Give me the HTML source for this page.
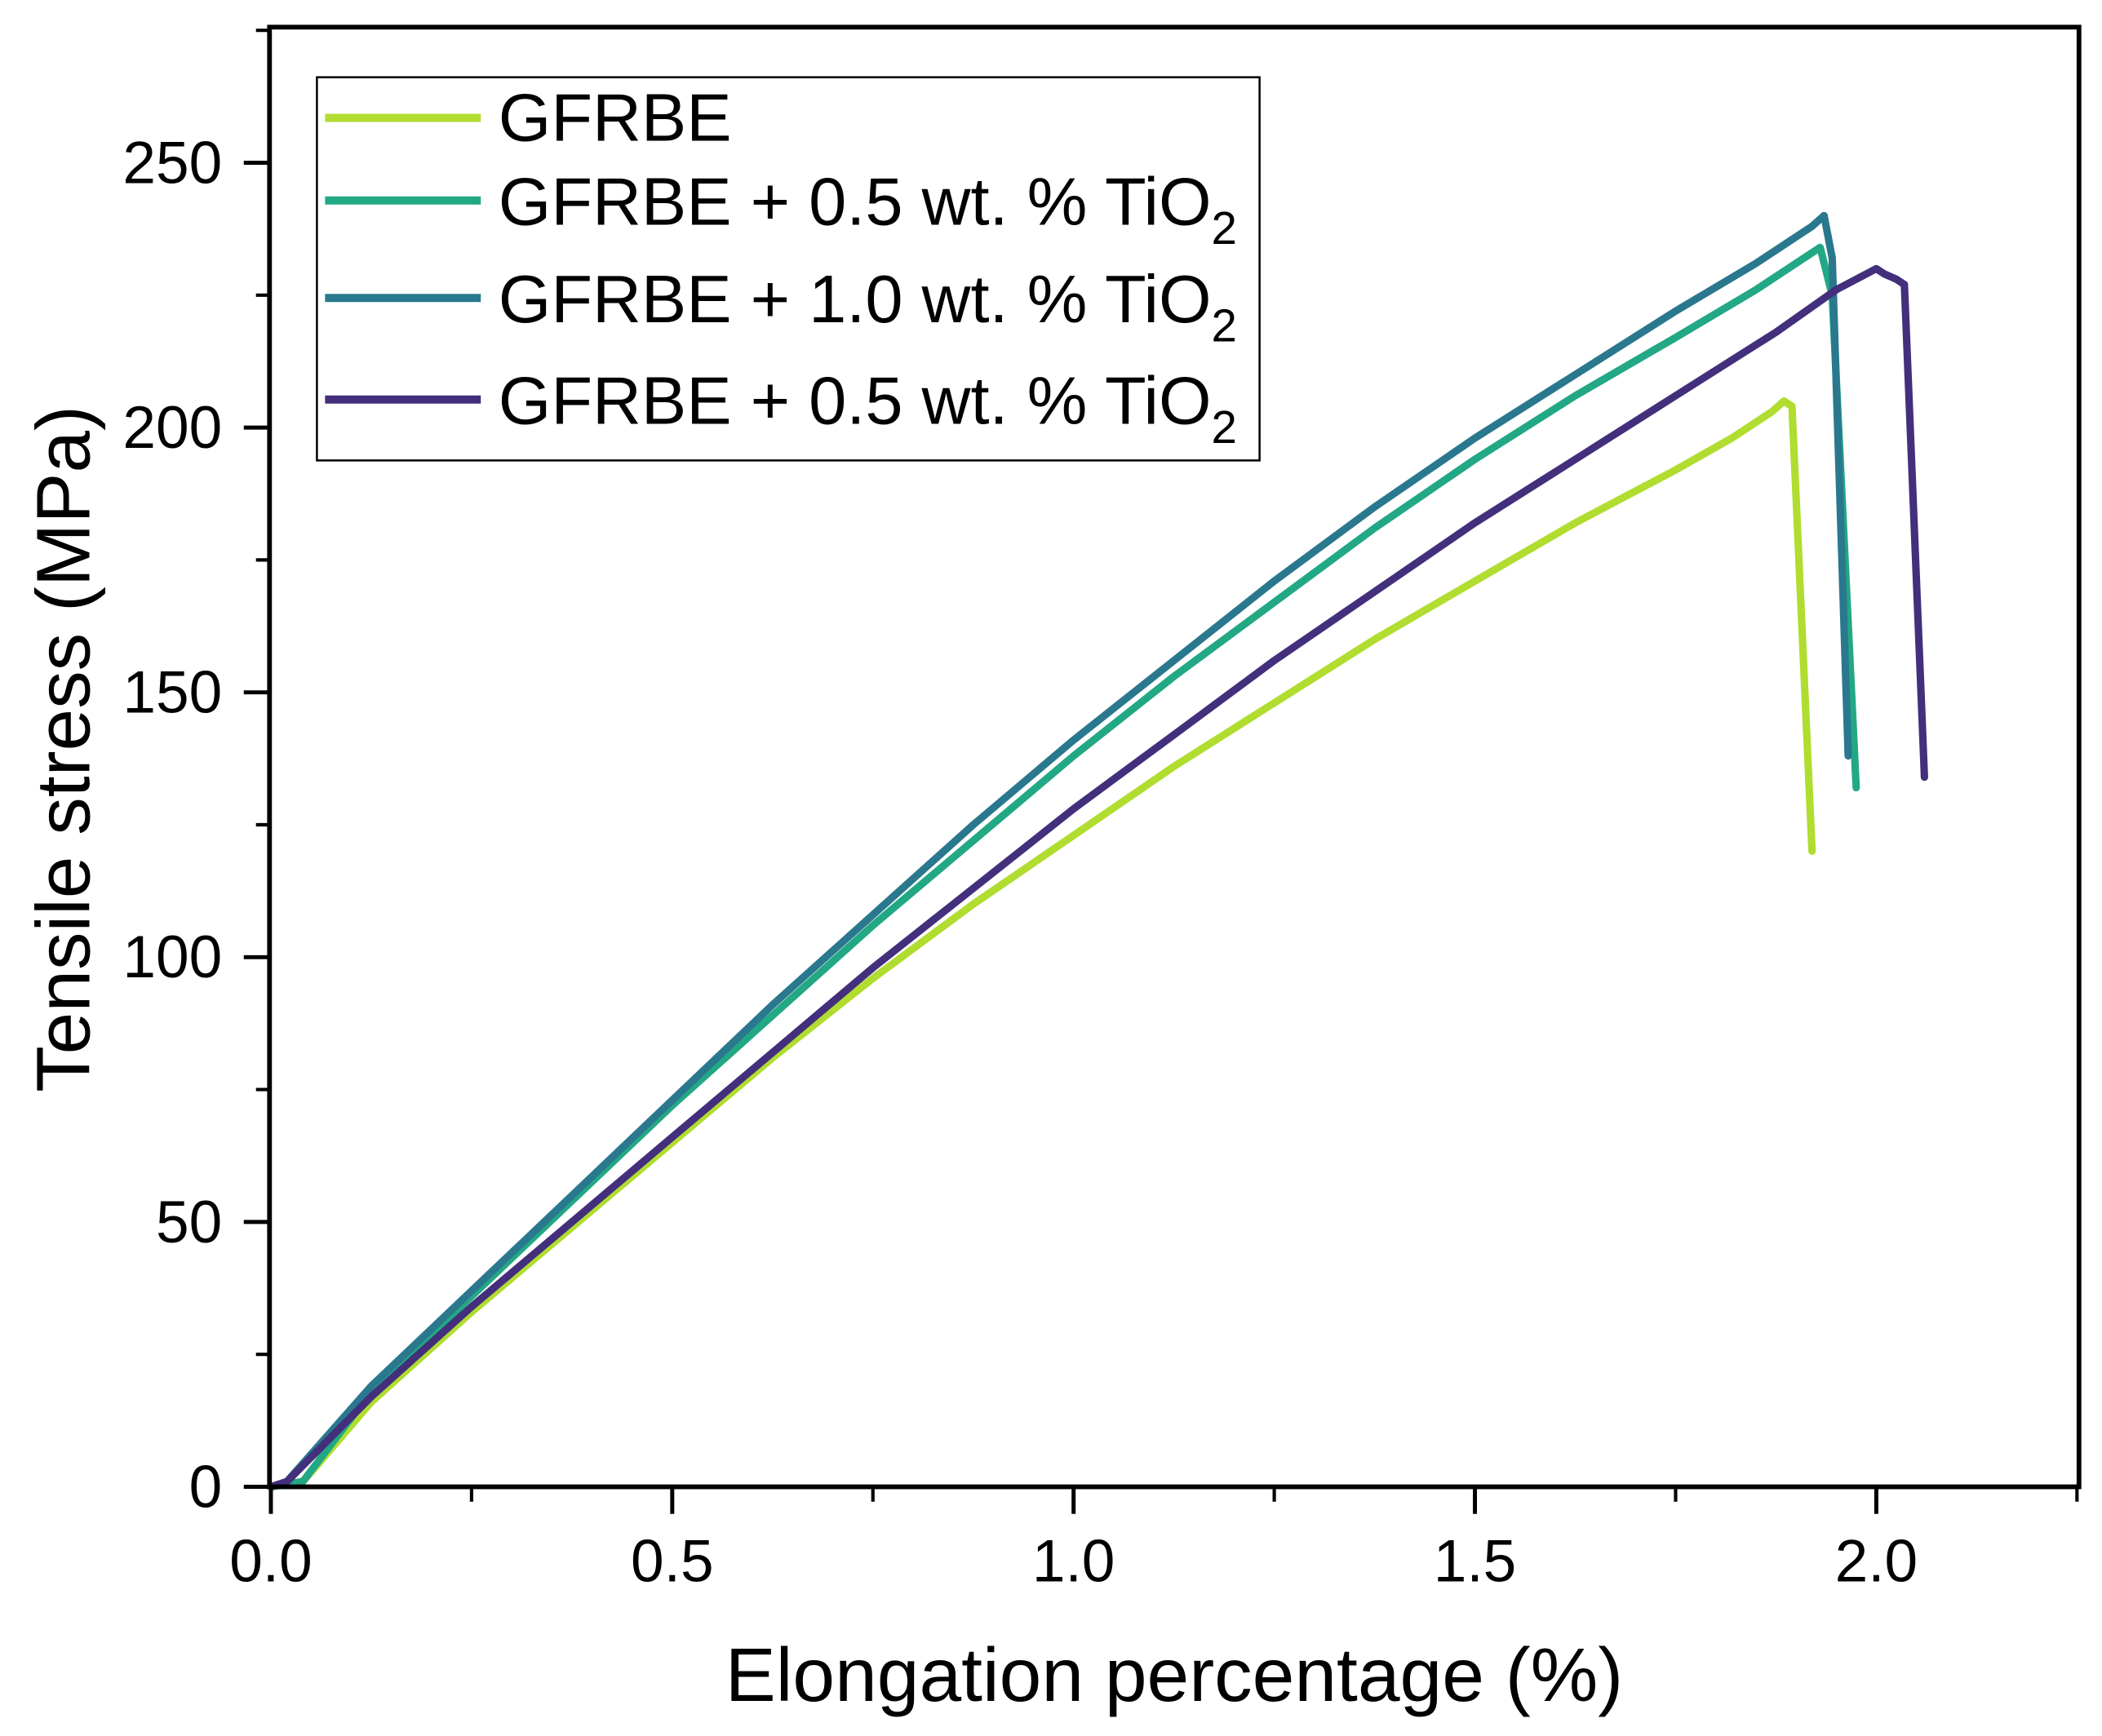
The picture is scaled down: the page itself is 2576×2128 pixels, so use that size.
<!DOCTYPE html>
<html><head><meta charset="utf-8"><style>
html,body{margin:0;padding:0;background:#fff;}
svg{display:block;font-family:"Liberation Sans",Arial,sans-serif;}
</style></head><body>
<svg id="chart" width="2576" height="2128" viewBox="0 0 1552 1282" xmlns="http://www.w3.org/2000/svg">
<rect width="1552" height="1282" fill="#fff"/>
<g id="curves"></g>
<rect x="199" y="20" width="1336" height="1078" fill="none" stroke="#000" stroke-width="3.5"/>
<g id="axes"></g>
<text x="867" y="1256" font-size="56" text-anchor="middle">Elongation percentage (%)</text>
<text transform="translate(66,553) rotate(-90)" font-size="56" text-anchor="middle">Tensile stress (MPa)</text>
<g>
<rect x="234" y="57" width="696" height="283" fill="#fff" stroke="#000" stroke-width="1.5"/>
<g><line x1="240" y1="87" x2="355" y2="87" stroke="#b0dd2f" stroke-width="6"/><text x="368" y="104" font-size="50">GFRBE</text></g>
<g><line x1="240" y1="148" x2="355" y2="148" stroke="#22a884" stroke-width="6"/><text x="368" y="166" font-size="50">GFRBE + 0.5 wt. % TiO<tspan font-size="34" dy="14">2</tspan></text></g>
<g><line x1="240" y1="220" x2="355" y2="220" stroke="#2a788e" stroke-width="6"/><text x="368" y="238" font-size="50">GFRBE + 1.0 wt. % TiO<tspan font-size="34" dy="14">2</tspan></text></g>
<g><line x1="240" y1="295" x2="355" y2="295" stroke="#432f7c" stroke-width="6"/><text x="368" y="313" font-size="50">GFRBE + 0.5 wt. % TiO<tspan font-size="34" dy="14">2</tspan></text></g>
</g>
</svg>
<script>
const xTicks=[0,0.5,1.0,1.5,2.0];
const xTickLabels=["0.0","0.5","1.0","1.5","2.0"];
const yTicks=[0,50,100,150,200,250];
const yTickLabels=["0","50","100","150","200","250"];
const s1x=[0,0.04,0.125,0.25,0.375,0.5,0.625,0.75,0.875,1.0,1.125,1.25,1.375,1.5,1.625,1.75,1.82,1.87,1.885,1.895,1.92];
const s1y=[0,1,16,33,49,65,81,96,110,123,136,148,160,171,182,192,198,203,205,204,120];
const s2x=[0,0.04,0.125,0.25,0.375,0.5,0.625,0.75,0.875,1.0,1.125,1.25,1.375,1.5,1.625,1.75,1.85,1.92,1.93,1.945,1.975];
const s2y=[0,1,18,36,54,72,89,106,122,138,153,167,181,194,206,217,226,233,234,225,132];
const s3x=[0,0.02,0.125,0.25,0.375,0.5,0.625,0.75,0.875,1.0,1.125,1.25,1.375,1.5,1.625,1.75,1.85,1.92,1.935,1.945,1.965];
const s3y=[0,1,19,37,55,73,91,108,125,141,156,171,185,198,210,222,231,238,240,232,138];
const s4x=[0,0.02,0.125,0.25,0.375,0.5,0.625,0.75,0.875,1.0,1.125,1.25,1.375,1.5,1.625,1.75,1.875,1.95,2.0,2.01,2.025,2.035,2.06];
const s4y=[0,1,17,34,50,66,82,98,113,128,142,156,169,182,194,206,218,226,230,229,228,227,134];
const X0=200,X1=1535,XMAX=2.2525,Y0=1098,Y1=20,YMAX=275.6;
const xs=v=>X0+v/XMAX*(X1-X0);
const ys=v=>Y0-v/YMAX*(Y0-Y1);
const NS="http://www.w3.org/2000/svg";
const curves=document.getElementById('curves');
const axes=document.getElementById('axes');
function mk(tag,attrs,parent){const e=document.createElementNS(NS,tag);for(const k in attrs)e.setAttribute(k,attrs[k]);parent.appendChild(e);return e;}
[[s1x,s1y,"#b0dd2f","series-gfrbe"],[s2x,s2y,"#22a884","series-05"],[s3x,s3y,"#2a788e","series-10"],[s4x,s4y,"#432f7c","series-05b"]].forEach(([a,b,c,n])=>{
 const d=a.map((v,i)=>(i?"L":"M")+xs(v).toFixed(1)+","+ys(b[i]).toFixed(1)).join("");
 const p=mk('path',{d:d,fill:"none",stroke:c,"stroke-width":5.5,"stroke-linejoin":"round","stroke-linecap":"round"},curves);
 
 
});
xTicks.forEach((v,i)=>{
 const l=mk('line',{x1:xs(v),x2:xs(v),y1:Y0,y2:Y0+20,stroke:"#000","stroke-width":3},axes);
 
 
 const t=mk('text',{x:xs(v),y:Y0+70,"font-size":44,"text-anchor":"middle"},axes);
 t.textContent=xTickLabels[i];
 
 
 const m=v+0.25;
 if(m<XMAX){const ml=mk('line',{x1:xs(m),x2:xs(m),y1:Y0,y2:Y0+11,stroke:"#000","stroke-width":2.5},axes);
 
 }
});
yTicks.forEach((v,i)=>{
 const l=mk('line',{x1:X0-20,x2:X0,y1:ys(v),y2:ys(v),stroke:"#000","stroke-width":3},axes);
 
 
 const t=mk('text',{x:X0-36,y:ys(v)+15,"font-size":44,"text-anchor":"end"},axes);
 t.textContent=yTickLabels[i];
 
 
 const m=v+25;
 if(m<YMAX){const ml=mk('line',{x1:X0-11,x2:X0,y1:ys(m),y2:ys(m),stroke:"#000","stroke-width":2.5},axes);
 
 }
});
</script>
</body></html>
